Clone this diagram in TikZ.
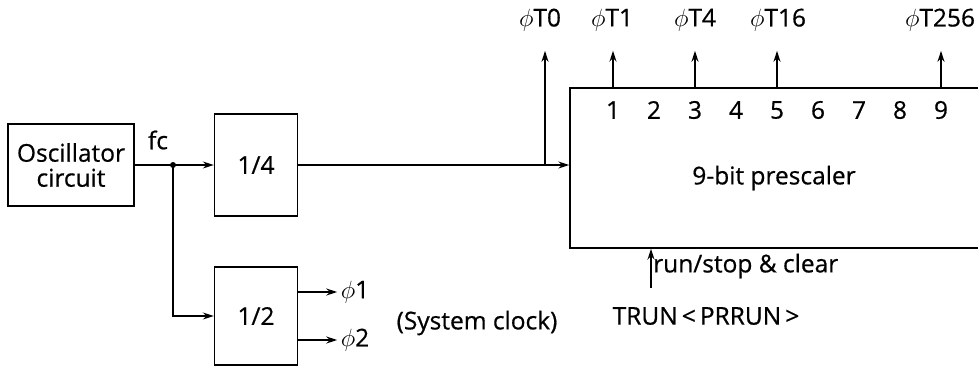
\documentclass[tikz,border=0pt]{standalone}
\usepackage{fontspec}
\setmainfont{Open Sans}[FakeBold=0.6]
\usetikzlibrary{arrows.meta,positioning,calc}

\begin{document}
\begin{tikzpicture}[x=1pt,y=-1pt,
    every node/.style={font=\fontsize{24.5}{25}\selectfont},
    blk/.style={draw,line width=1.4pt,rectangle,align=center},
    sig/.style={line width=1.4pt,-{Stealth[length=11pt,width=7pt]}},
    outsig/.style={sig,shorten >=16pt}]
        \clip (0,0) rectangle (978,365);

        % Clock source
        \node[blk,minimum width=126pt,minimum height=82pt,inner sep=1pt] (osc) at (71,165) {Oscillator\\circuit};
        \coordinate (fc) at (173,165);
        \node (fclbl) at (158,140) {fc};

        % Dividers
        \node[blk,minimum width=83pt,minimum height=102pt] (div4) at (256,165) {1/4};
        \node[blk,minimum width=83pt,minimum height=98pt] (div2) at (256,316) {1/2};
        \node (phione) at (355,292) {$\phi$1};
        \node (phitwo) at (355,340) {$\phi$2};
        \node (sysclk) at (477,323) {(System clock)};

        % Prescaler
        \node[blk,minimum width=410pt,minimum height=160pt] (pre) at (775,168) {};
        \node (prename) at (774,178) {9-bit prescaler};
        \foreach \i in {1,...,9}
            \node (n\i) at ({613+41*(\i-1)},110) {\i};

        % Prescaler outputs
        \node (t0) at (540,20) {$\phi$T0};
        \node (t1) at (612,20) {$\phi$T1};
        \node (t4) at (695,20) {$\phi$T4};
        \node (t16) at (778,20) {$\phi$T16};
        \node (t256) at (940,20) {$\phi$T256};

        % Control
        \coordinate (runin) at (651,288);
        \node[anchor=west,inner sep=1pt] (runlbl) at (652,266) {run/stop \& clear};
        \node (trun) at (706,316) {TRUN\,<\,PRRUN\,>};

        % Arrows
        \draw[sig] (osc.east) -- (div4.west);
        \fill (fc) circle (3pt);
        \draw[sig] (fc) |- (div2.west);
        \draw[sig] (div2.east |- phione) -- (phione.west);
        \draw[sig] (div2.east |- phitwo) -- (phitwo.west);
        \coordinate (tap) at (545,165);
        \draw[sig] (div4.east) -- (div4.east -| pre.west);
        \draw[outsig] (tap) -- (tap |- t0.south);
        \draw[outsig] (n1 |- pre.north) -- (n1 |- t1.south);
        \draw[outsig] (n3 |- pre.north) -- (n3 |- t4.south);
        \draw[outsig] (n5 |- pre.north) -- (n5 |- t16.south);
        \draw[outsig] (n9 |- pre.north) -- (n9 |- t256.south);
        \draw[sig] (runin) -- (runin |- pre.south);
    \end{tikzpicture}
\end{document}
